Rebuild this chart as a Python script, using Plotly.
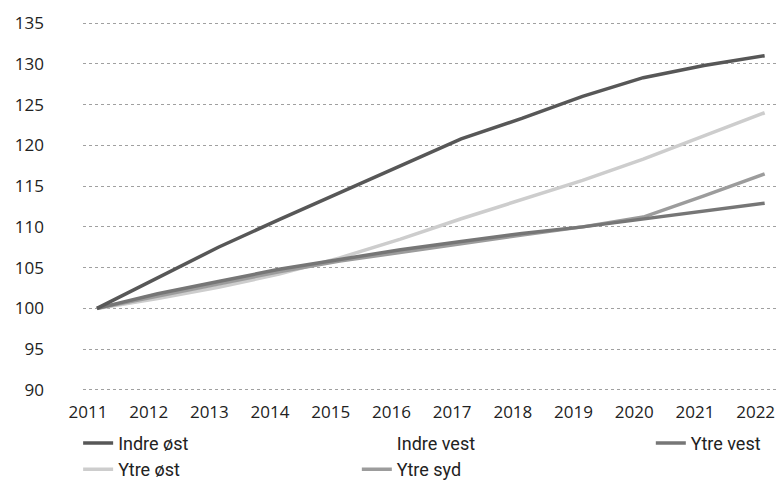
import plotly.graph_objects as go

years = list(range(2011, 2023))
indre_ost = [100, 103.8, 107.5, 110.9, 114.2, 117.6, 120.8, 123.3, 126.0, 128.3, 129.8, 131.0]
indre_vest = [None] * 12
ytre_vest = [100, 101.8, 103.3, 104.8, 106.0, 107.2, 108.2, 109.2, 110.0, 111.0, 112.0, 112.9]
ytre_ost = [100, 101.2, 102.6, 104.2, 106.2, 108.5, 111.0, 113.3, 115.7, 118.3, 121.2, 124.0]
ytre_syd = [100, 101.5, 103.0, 104.5, 105.8, 106.9, 108.0, 109.0, 110.0, 111.2, 113.8, 116.5]

# (name, values, colour, legend column)
series = [
    ("Ytre øst", ytre_ost, "#cdcdcd", "legend"),
    ("Ytre syd", ytre_syd, "#9c9c9c", "legend2"),
    ("Ytre vest", ytre_vest, "#767676", "legend3"),
    ("Indre vest", indre_vest, "#ffffff", "legend2"),
    ("Indre øst", indre_ost, "#575757", "legend"),
]
legend_rank = {"Indre øst": 1, "Ytre øst": 2, "Indre vest": 1, "Ytre syd": 2, "Ytre vest": 1}

fig = go.Figure()
for name, vals, color, lg in series:
    fig.add_trace(go.Scatter(
        x=years, y=vals, name=name, mode="lines",
        line=dict(color=color, width=3.5),
        legend=lg, legendrank=legend_rank[name],
    ))

font = "Roboto"
leg_common = dict(
    orientation="v", y=-0.082, yanchor="top", xanchor="left",
    itemwidth=30, tracegroupgap=0, traceorder="normal",
    font=dict(family=font, size=18, color="#222"),
    bgcolor="rgba(0,0,0,0)",
)
fig.update_layout(
    width=778, height=487,
    margin=dict(l=83, r=0, t=19.4, b=92.9, autoexpand=False),
    paper_bgcolor="white", plot_bgcolor="white",
    font=dict(family=font, size=17, color="#222"),
    showlegend=True,
    legend=dict(x=-0.007, **leg_common),
    legend2=dict(x=0.394, **leg_common),
    legend3=dict(x=0.817, **leg_common),
    xaxis=dict(
        range=[2010.77, 2022.22], tickmode="array", tickvals=years,
        ticktext=[str(y) for y in years],
        showgrid=False, zeroline=False, showline=False,
        ticklabelshift=-9, ticklabelstandoff=6, ticklabeloverflow="allow",
        tickfont=dict(family="Open Sans", size=17),
    ),
    yaxis=dict(
        range=[89.5, 135.5], tickmode="array", tickvals=list(range(90, 136, 5)),
        showgrid=True, gridcolor="#a0a0a0", griddash="dot", gridwidth=1,
        zeroline=False, showline=False,
        ticklabelstandoff=38,
        tickfont=dict(family="Open Sans", size=17),
    ),
)

fig.write_html(
    "out.html",
    config={"displayModeBar": False},
    post_script="document.body.style.margin='0';document.body.style.overflow='hidden';",
)
